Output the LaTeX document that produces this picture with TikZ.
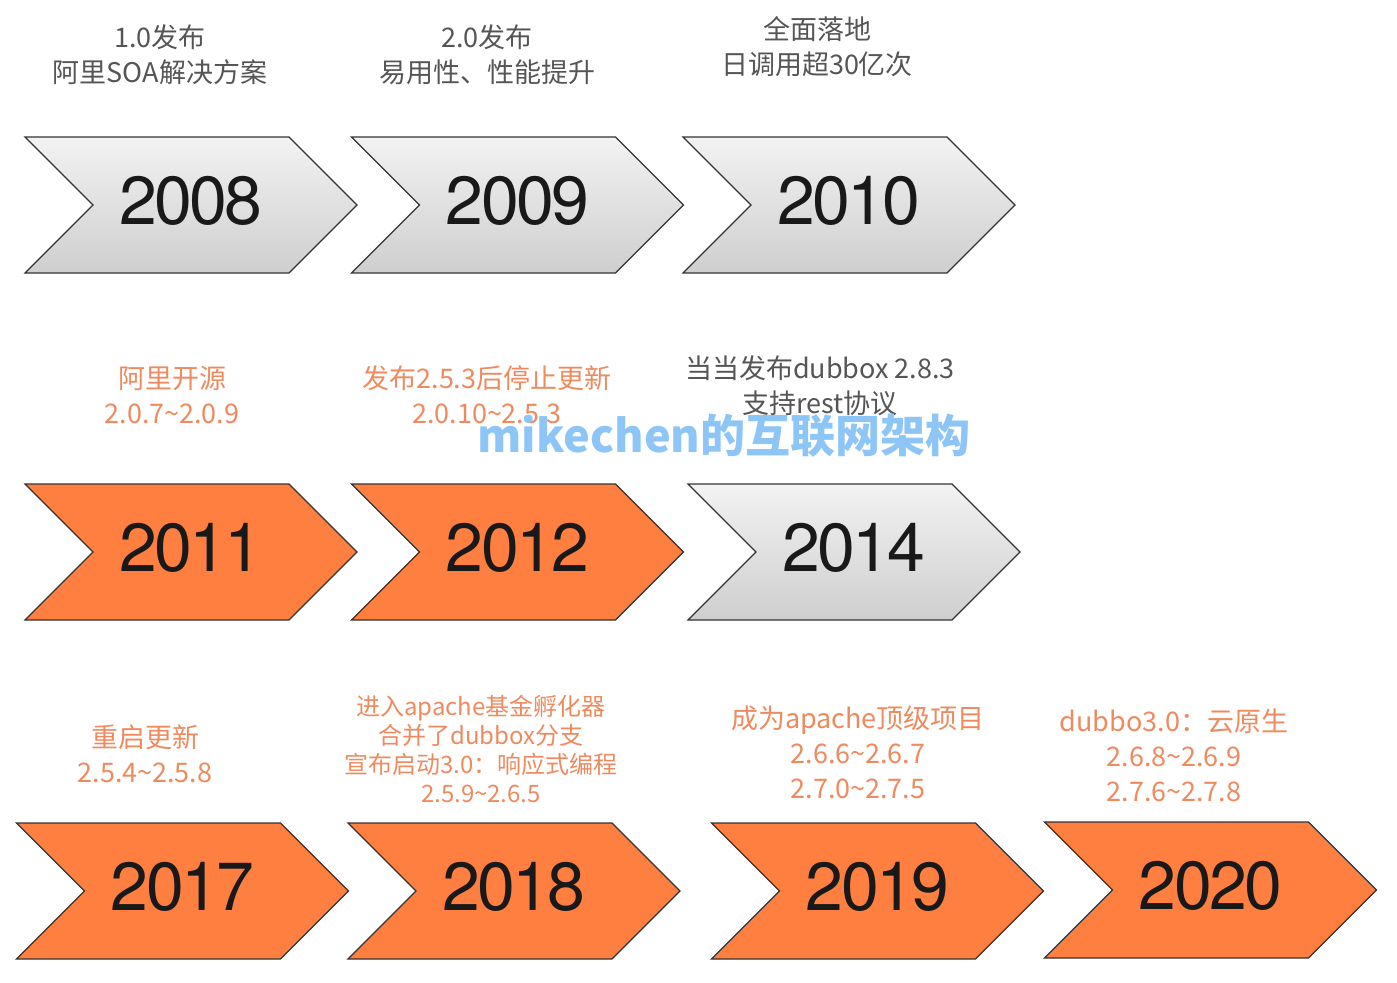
\documentclass[tikz,border=0pt]{standalone}
\usepackage{fontspec}
\setmainfont{TeX Gyre Heros}
\newfontfamily\cjk{Noto Sans CJK SC}
\newfontfamily\yearfont[LetterSpace=-4]{TeX Gyre Heros}
\usetikzlibrary{positioning,shapes.symbols}
\definecolor{dubboorange}{HTML}{FF7F40}
\definecolor{noteorange}{HTML}{EE8A5E}
\definecolor{notegray}{HTML}{555555}
\definecolor{markblue}{HTML}{8EC5F7}

\begin{document}
\begin{tikzpicture}[x=0.5pt,y=-0.5pt]
    \tikzstyle{every node}=[inner sep=0pt]
    \tikzstyle{year}=[shape=signal,signal from=west,signal to=east,signal pointer angle=90,draw=black!80,line width=0.6pt,minimum width=166pt,minimum height=68pt,text=black!90,text depth=5pt,font=\yearfont\fontsize{34}{34}\selectfont]
    \tikzstyle{old}=[year,top color=gray!10,bottom color=gray!38]
    \tikzstyle{new}=[year,fill=dubboorange]
    \tikzstyle{note}=[align=center,font=\cjk\fontsize{13.5}{17.5}\selectfont]
    \useasboundingbox (0,0) rectangle (1397,982);

    % row 1
    \node[old] (y2008) at (191,205) {2008};
    \node[old] (y2009) at (517.5,205) {2009};
    \node[old] (y2010) at (849,205) {2010};
    \node[note,text=notegray] (n2008) at (160,54.5) {1.0发布\\阿里SOA解决方案};
    \node[note,text=notegray] (n2009) at (487,54.5) {2.0发布\\易用性、性能提升};
    \node[note,text=notegray] (n2010) at (817,47) {全面落地\\日调用超30亿次};

    % row 2
    \node[new] (y2011) at (191,552) {2011};
    \node[new] (y2012) at (517.5,552) {2012};
    \node[old] (y2014) at (854,552) {2014};
    \node[note,text=noteorange] (n2011) at (172,395) {阿里开源\\2.0.7\textasciitilde2.0.9};
    \node[note,text=noteorange] (n2012) at (487,395) {发布2.5.3后停止更新\\2.0.10\textasciitilde2.5.3};
    \node[note,text=notegray] (n2014) at (820,385.5) {当当发布dubbox 2.8.3\\支持rest协议};

    % row 3
    \node[new] (y2017) at (182.5,891) {2017};
    \node[new] (y2018) at (514,891) {2018};
    \node[new] (y2019) at (877.5,891) {2019};
    \node[new] (y2020) at (1210.5,890) {2020};
    \node[note,text=noteorange] (n2017) at (145,753.5) {重启更新\\2.5.4\textasciitilde2.5.8};
    \node[note,text=noteorange,font=\cjk\fontsize{12}{14.5}\selectfont] (n2018) at (481,748.5) {进入apache基金孵化器\\合并了dubbox分支\\宣布启动3.0：响应式编程\\2.5.9\textasciitilde2.6.5};
    \node[note,text=noteorange] (n2019) at (858,752) {成为apache顶级项目\\2.6.6\textasciitilde2.6.7\\2.7.0\textasciitilde2.7.5};
    \node[note,text=noteorange] (n2020) at (1174,755.5) {dubbo3.0：云原生\\2.6.8\textasciitilde2.6.9\\2.7.6\textasciitilde2.7.8};

    % watermark
    \node[text=markblue,font=\cjk\bfseries\fontsize{22.5}{22.5}\selectfont] (mark) at (724,436) {mikechen的互联网架构};
\end{tikzpicture}
\end{document}
